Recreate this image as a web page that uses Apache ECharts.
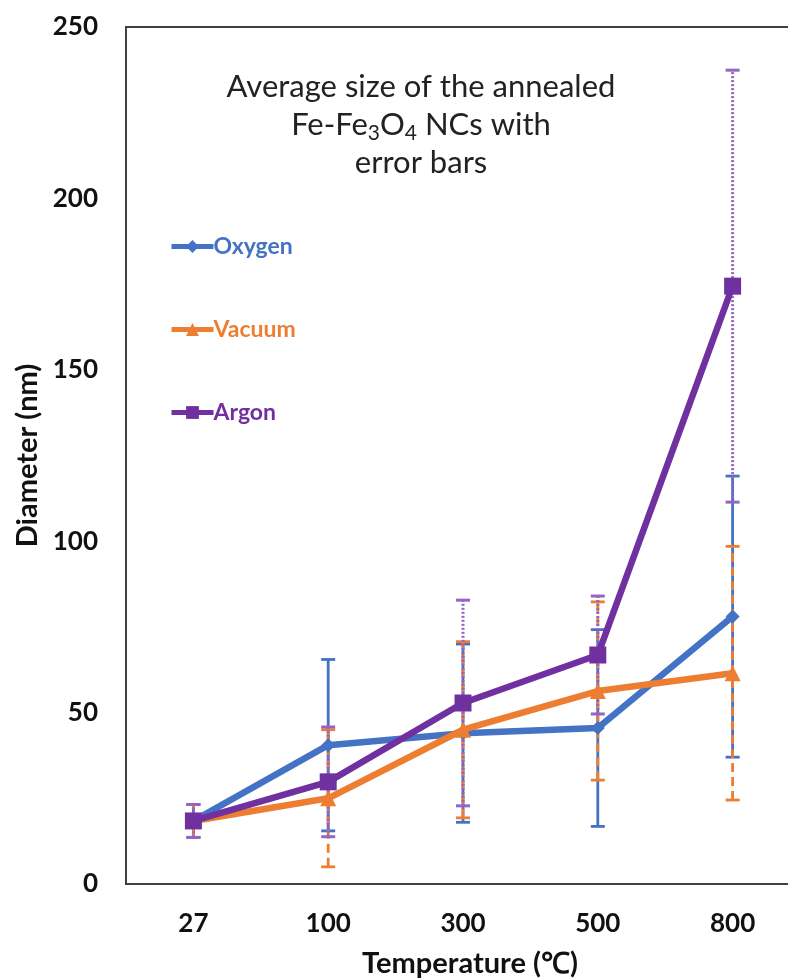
<!DOCTYPE html>
<html>
<head>
<meta charset="utf-8">
<script src="https://cdn.jsdelivr.net/npm/echarts@6/dist/echarts.min.js"></script>
<style>
html,body{margin:0;padding:0;background:#fff;}
#chart{width:788px;height:980px;}
</style>
</head>
<body>
<div id="chart"></div>
<script>
var categories = ['27', '100', '300', '500', '800'];
var oxygen = [18.4, 40.5, 44.0, 45.5, 78.0];
var vacuum = [18.4, 25.0, 45.0, 56.3, 61.5];
var argon  = [18.4, 29.8, 52.8, 66.8, 174.4];
var oxygenErr = [4.8, 25.0, 26.0, 28.7, 41.0];
var vacuumErr = [4.8, 20.0, 25.7, 26.0, 37.0];
var argonErr  = [4.8, 16.0, 30.0, 17.2, 63.0];
var yTicks = [0, 50, 100, 150, 200, 250];

var C_OX = '#4472C4', C_VA = '#ED7D31', C_AR = '#7030A0';

function errData(vals, errs) {
  return vals.map(function (v, i) { return [i, v - errs[i], v + errs[i]]; });
}
function errSeries(name, vals, errs, color, dash, width) {
  return {
    type: 'custom',
    name: name,
    z: 1,
    silent: true,
    encode: { x: 0, y: [1, 2] },
    data: errData(vals, errs),
    renderItem: function (params, api) {
      var lo = api.coord([api.value(0), api.value(1)]);
      var hi = api.coord([api.value(0), api.value(2)]);
      var hw = 7;
      var st = { stroke: color, lineWidth: width, lineDash: dash };
      var cap = { stroke: color, lineWidth: width };
      return {
        type: 'group',
        children: [
          { type: 'line', shape: { x1: lo[0], y1: lo[1], x2: hi[0], y2: hi[1] }, style: st },
          { type: 'line', shape: { x1: lo[0] - hw, y1: lo[1], x2: lo[0] + hw, y2: lo[1] }, style: cap },
          { type: 'line', shape: { x1: hi[0] - hw, y1: hi[1], x2: hi[0] + hw, y2: hi[1] }, style: cap }
        ]
      };
    }
  };
}

var chart = echarts.init(document.getElementById('chart'));
var F = 'Lato';
chart.setOption({
  animation: false,
  backgroundColor: '#fff',
  grid: { left: 126, top: 27, width: 674, height: 857, outerBoundsMode: 'none', containLabel: false,
    show: true, borderColor: '#404040', borderWidth: 2, backgroundColor: 'transparent' },
  legend: {
    orient: 'vertical',
    left: 164,
    top: 230,
    itemGap: 60,
    itemWidth: 42,
    itemHeight: 16,
    lineStyle: { width: 5 },
    textStyle: { fontFamily: F, fontWeight: 'bold', fontSize: 23, padding: [0, 0, 0, -5] },
    data: [
      { name: 'Oxygen', textStyle: { color: C_OX } },
      { name: 'Vacuum', textStyle: { color: C_VA } },
      { name: 'Argon', textStyle: { color: C_AR } }
    ]
  },
  graphic: [{
    type: 'text',
    x: 421,
    y: 68,
    z: 100,
    style: {
      text: 'Average size of the annealed\nFe-Fe{sub|3}O{sub|4} NCs with\nerror bars',
      align: 'center',
      fill: '#222',
      fontFamily: F,
      fontSize: 31,
      lineHeight: 38,
      rich: {
        sub: { fontFamily: F, fontSize: 21, fill: '#222', verticalAlign: 'bottom', padding: [12, 0, 0, 0], lineHeight: 38 }
      }
    }
  }],
  xAxis: {
    type: 'category',
    data: categories,
    boundaryGap: true,
    axisLine: { lineStyle: { color: '#404040', width: 2 } },
    axisTick: { show: false },
    axisLabel: { color: '#111', fontFamily: F, fontWeight: 'bold', fontSize: 26, margin: 27 },
    name: 'Temperature (\u2103)',
    nameLocation: 'middle',
    nameGap: 65,
    nameTextStyle: { color: '#111', fontFamily: F, fontWeight: 'bold', fontSize: 29, padding: [0, 0, 0, 14] }
  },
  yAxis: {
    type: 'value',
    min: 0,
    max: 250,
    interval: 50,
    splitLine: { show: false },
    axisLine: { show: true, lineStyle: { color: '#404040', width: 2 } },
    axisTick: { show: false },
    axisLabel: { color: '#111', fontFamily: F, fontWeight: 'bold', fontSize: 26, margin: 28,
      formatter: function (v) { return yTicks.indexOf(v) >= 0 ? String(v) : ''; } },
    name: 'Diameter (nm)',
    nameLocation: 'middle',
    nameGap: 83,
    nameTextStyle: { color: '#111', fontFamily: F, fontWeight: 'bold', fontSize: 29 }
  },
  series: [
    errSeries('OxygenErr', oxygen, oxygenErr, C_OX, null, 2.8),
    errSeries('VacuumErr', vacuum, vacuumErr, C_VA, [9, 5], 2.8),
    errSeries('ArgonErr', argon, argonErr, '#9466c4', [2, 2], 3),
    { type: 'line', name: 'Oxygen', data: oxygen, z: 3, color: C_OX, symbol: 'diamond', symbolSize: 14,
      lineStyle: { width: 6.5, color: C_OX }, itemStyle: { color: C_OX } },
    { type: 'line', name: 'Vacuum', data: vacuum, z: 4, color: C_VA, symbol: 'triangle', symbolSize: 16,
      lineStyle: { width: 6.5, color: C_VA }, itemStyle: { color: C_VA } },
    { type: 'line', name: 'Argon', data: argon, z: 5, color: C_AR, symbol: 'rect', symbolSize: 17,
      lineStyle: { width: 6.5, color: C_AR }, itemStyle: { color: C_AR } }
  ]
});
</script>
</body>
</html>
